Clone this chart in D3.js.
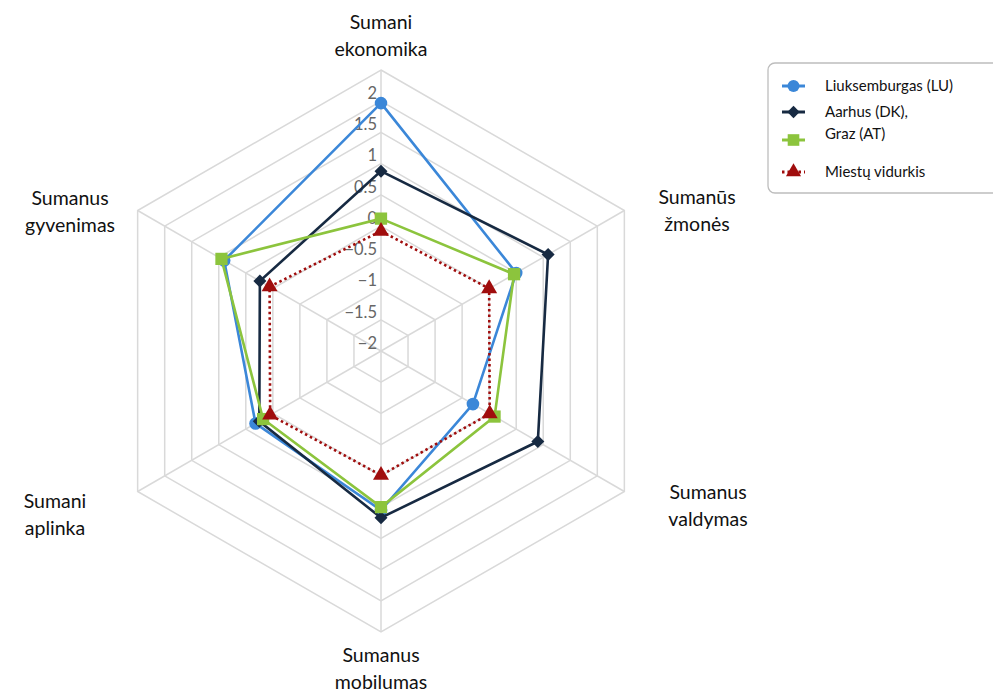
<!DOCTYPE html>
<html><head><meta charset="utf-8">
<script src="https://cdn.jsdelivr.net/npm/d3@7"></script>
<style>
html,body{margin:0;padding:0;background:#fff;}
svg{display:block;font-family:Lato,"Open Sans",sans-serif;}
</style></head>
<body><svg id="c" width="993" height="693"></svg>
<script>
const categories = ["Sumani ekonomika","Sumanūs žmonės","Sumanus valdymas","Sumanus mobilumas","Sumani aplinka","Sumanus gyvenimas"];
const seriesNames = ["Liuksemburgas (LU)","Aarhus (DK),","Graz (AT)","Miestų vidurkis"];
const luValues     = [1.97, 0.50, -0.30, 0.55, 0.32, 0.90];
const aarhusValues = [0.88, 1.09, 0.90, 0.67, 0.25, 0.24];
const grazValues   = [0.12, 0.46, 0.10, 0.50, 0.18, 0.95];
const avgValues    = [-0.08, 0.00, 0.01, -0.01, 0.05, 0.06];
const tickValues = [-2,-1.5,-1,-0.5,0,0.5,1,1.5,2];
const ringValues = [-1.5,-1,-0.5,0,0.5,1,1.5,2,2.5];

const svg = d3.select("#c");
const cx = 381, cy = 351, R = 281;
const r = d3.scaleLinear().domain([-2, 2.5]).range([0, R]);
const n = categories.length;
const ang = i => i * 2 * Math.PI / n;
const g = svg.append("g").attr("transform", `translate(${cx},${cy})`);

const ringLine = d3.lineRadial().angle((d,i)=>ang(i)).radius(d=>r(d)).curve(d3.curveLinearClosed);
g.selectAll(".ring").data(ringValues).enter().append("path")
  .attr("d", v => ringLine(categories.map(()=>v)))
  .attr("fill","none").attr("stroke","#d9d9d9").attr("stroke-width",1.5);
g.selectAll(".spoke").data(categories).enter().append("line")
  .attr("x1",0).attr("y1",0)
  .attr("x2",(d,i)=>Math.sin(ang(i))*R).attr("y2",(d,i)=>-Math.cos(ang(i))*R)
  .attr("stroke","#d9d9d9").attr("stroke-width",1.5);
const fmt = d3.format("~g");
g.selectAll(".tick").data(tickValues).enter().append("text")
  .attr("x",-4).attr("y",v=>-r(v)-8).attr("dy","0.35em")
  .attr("text-anchor","end").attr("font-size",16.5).attr("fill","#666")
  .text(v=>fmt(v));

const labelOffsets = [[0,-315],[316,-140],[327,155],[0,318],[-326,164],[-311,-139]];
categories.forEach((c,i)=>{
  const parts = c.split(" ");
  const t = g.append("text").attr("text-anchor","middle").attr("font-size",19.5).attr("fill","#111")
    .attr("x",labelOffsets[i][0]).attr("y",labelOffsets[i][1]);
  parts.forEach((p,j)=>{
    t.append("tspan").attr("x",labelOffsets[i][0]).attr("dy", j===0 ? "-0.38em" : "1.42em").text(p);
  });
});

const diamond = {draw(ctx,size){const s=Math.sqrt(size)/Math.SQRT2*1.0; ctx.moveTo(0,-s);ctx.lineTo(s,0);ctx.lineTo(0,s);ctx.lineTo(-s,0);ctx.closePath();}};
const series = [
  {name:seriesNames[0], values:luValues, color:"#3b87d8", dash:null, symbol:d3.symbolCircle, size:125},
  {name:seriesNames[1], values:aarhusValues, color:"#172a42", dash:null, symbol:diamond, size:85},
  {name:seriesNames[2], values:grazValues, color:"#8cc43d", dash:null, symbol:d3.symbolSquare, size:150},
  {name:seriesNames[3], values:avgValues, color:"#a00d0d", dash:"2.5,3", symbol:d3.symbolTriangle, size:110}
];
const line = d3.lineRadial().angle((d,i)=>ang(i)).radius(d=>r(d)).curve(d3.curveLinearClosed);
series.forEach(s=>{
  g.append("path").attr("d", line(s.values)).attr("fill","none")
    .attr("stroke",s.color).attr("stroke-width",2.6)
    .attr("stroke-dasharray",s.dash);
  g.selectAll(null).data(s.values).enter().append("path")
    .attr("d", d3.symbol().type(s.symbol).size(s.size))
    .attr("transform",(d,i)=>`translate(${Math.sin(ang(i))*r(d)},${-Math.cos(ang(i))*r(d)})`)
    .attr("fill",s.color);
});

const lg = svg.append("g").attr("transform","translate(768,63)");
lg.append("rect").attr("x",0).attr("y",0).attr("width",240).attr("height",130).attr("rx",7)
  .attr("fill","#fff").attr("stroke","#bdbdbd").attr("stroke-width",1.3);
const rowsY = [23,49,77,109];
const textY = [23,49,71,109];
series.forEach((s,i)=>{
  const row = lg.append("g");
  row.append("line").attr("x1",14).attr("x2",37).attr("y1",rowsY[i]).attr("y2",rowsY[i])
    .attr("stroke",s.color).attr("stroke-width",3).attr("stroke-dasharray",s.dash);
  row.append("path").attr("d", d3.symbol().type(s.symbol).size(s.size*0.9))
    .attr("transform",`translate(25.5,${rowsY[i]})`).attr("fill",s.color);
  row.append("text").attr("x",57).attr("y",textY[i]).attr("dy","0.35em")
    .attr("font-size",15).attr("fill","#111").text(s.name);
});
</script></body></html>
